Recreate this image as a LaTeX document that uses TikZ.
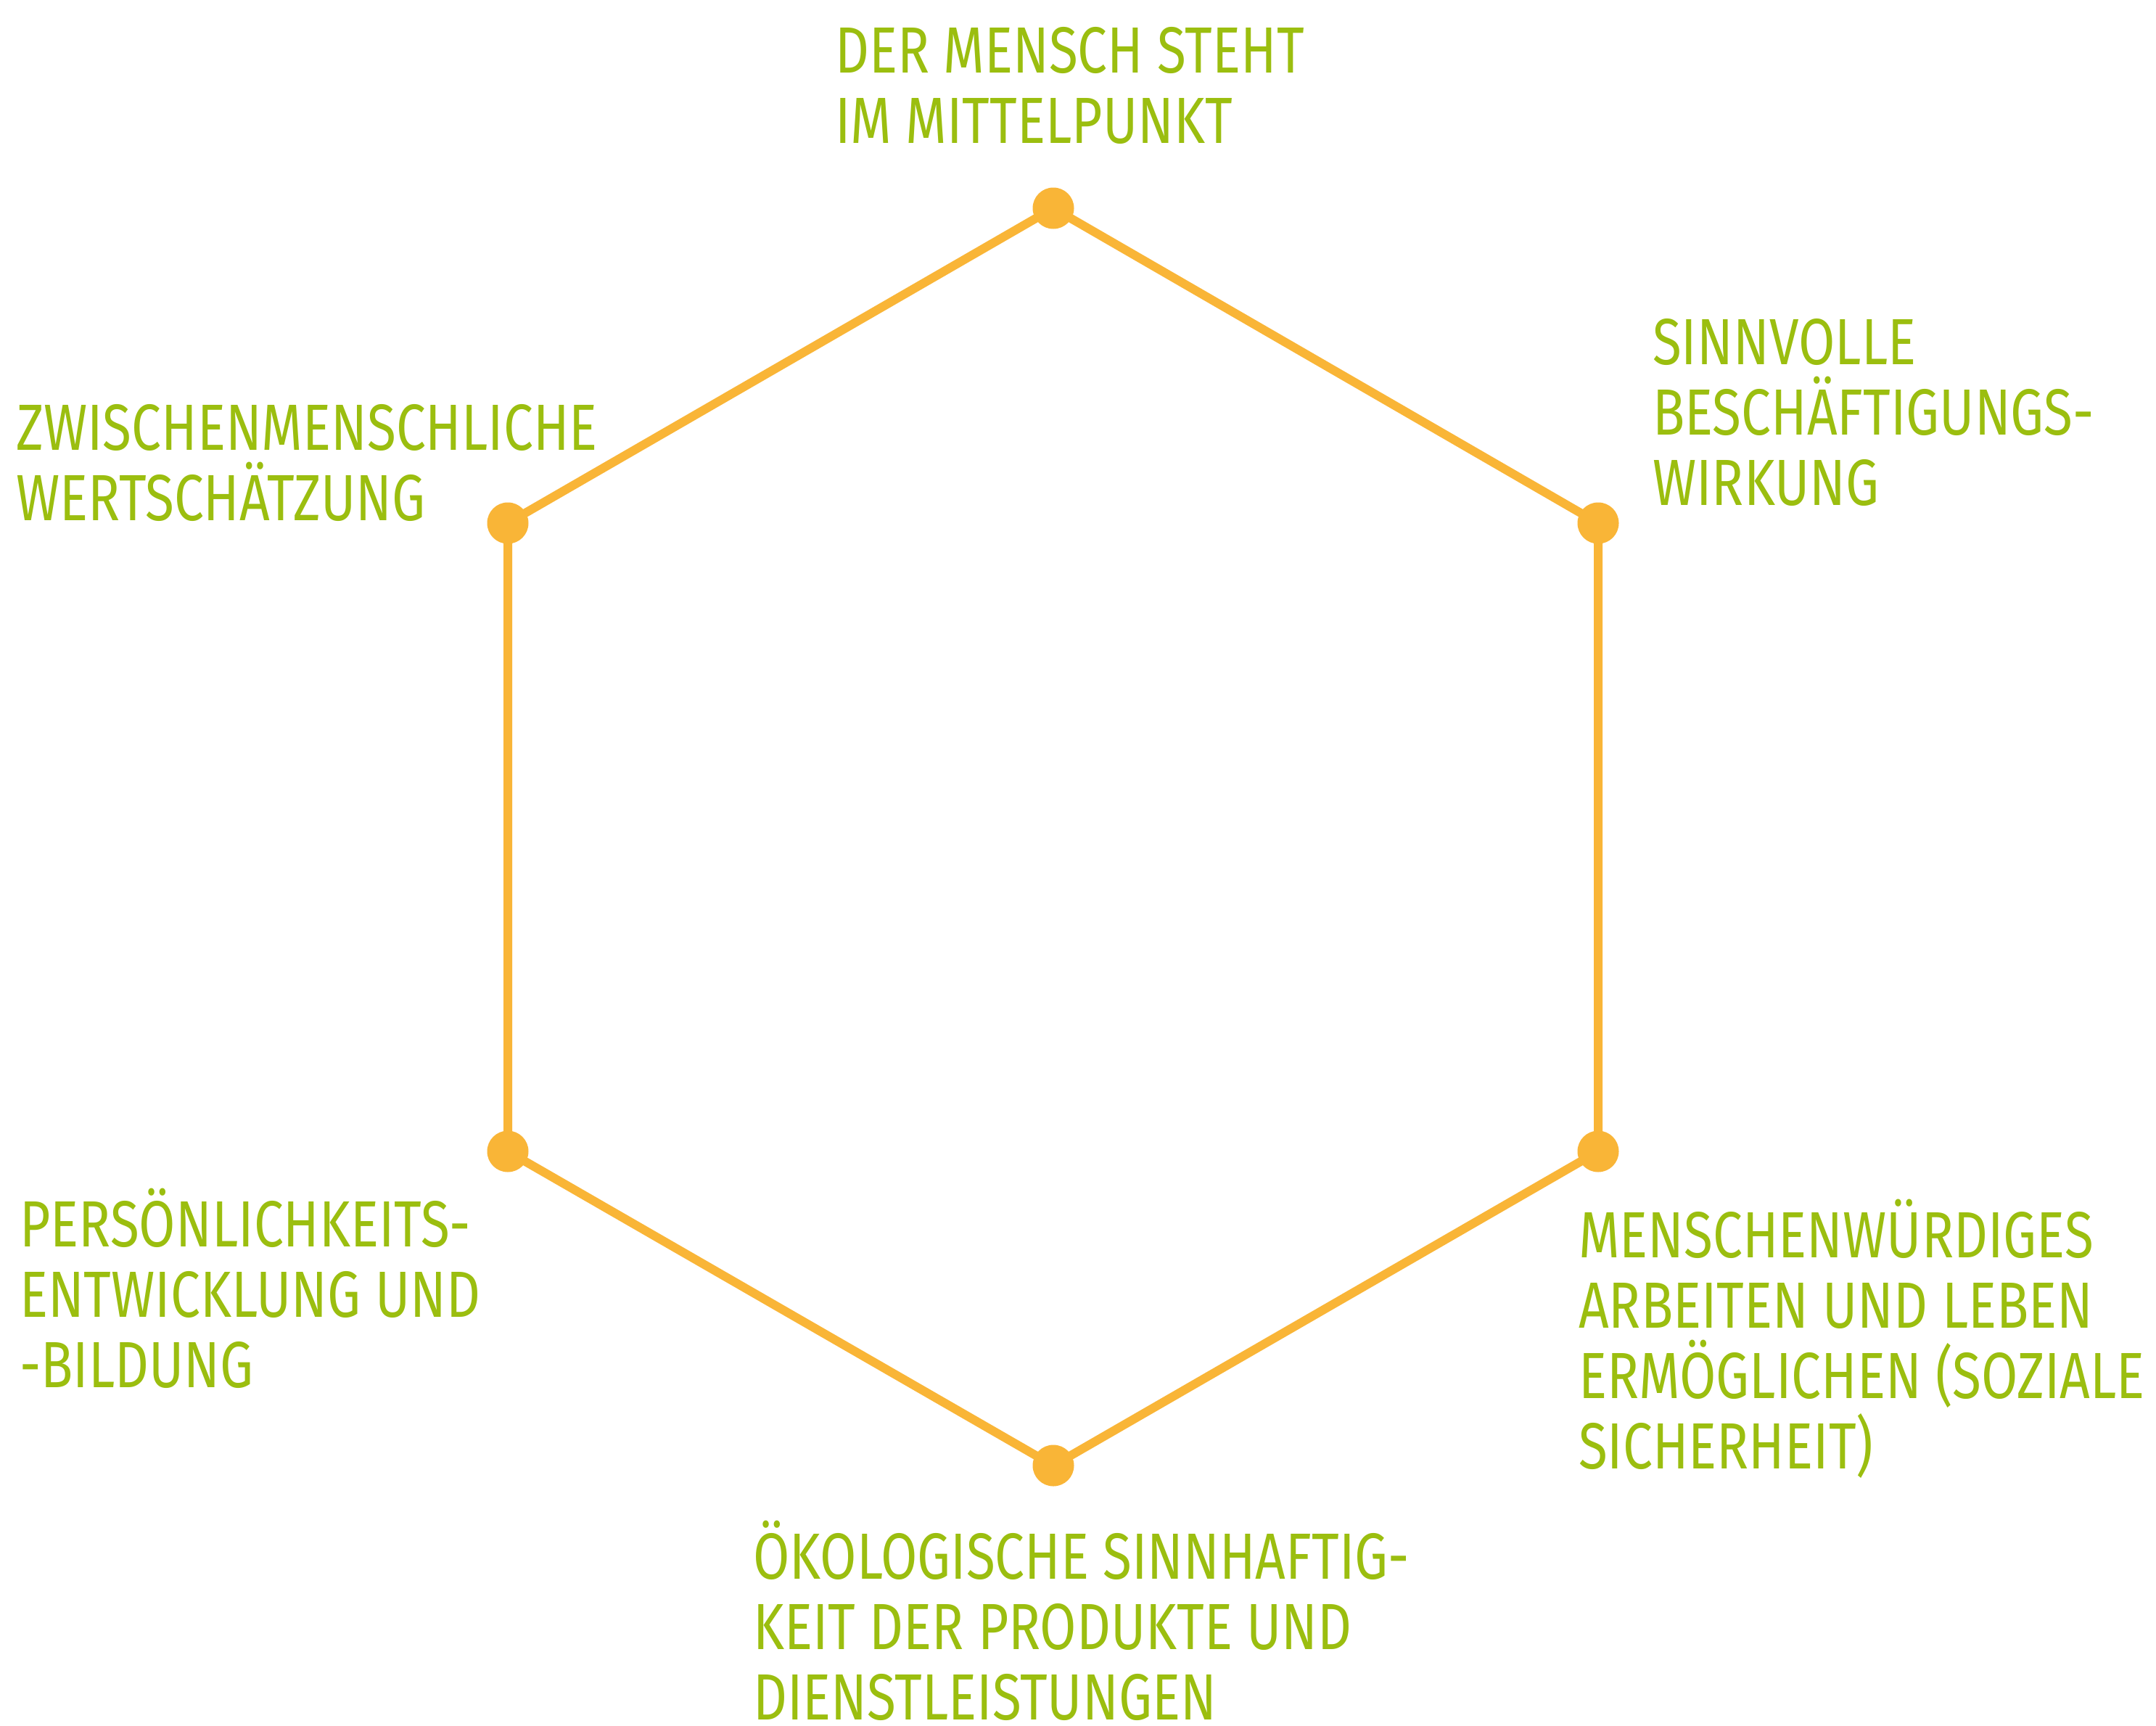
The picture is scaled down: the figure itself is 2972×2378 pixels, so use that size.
\documentclass[tikz,border=0pt]{standalone}
\usepackage{fontspec}
\usetikzlibrary{backgrounds}
\newfontfamily\labfont[FakeStretch=0.81]{Fira Sans}
\definecolor{labgreen}{RGB}{155,190,15}
\definecolor{hexorange}{RGB}{249,181,55}
\tikzset{
  lab/.style={anchor=base west, inner sep=0pt, text=labgreen,
    font=\labfont\fontsize{90}{97}\selectfont},
  dot/.style={circle, fill=hexorange, minimum size=57pt, inner sep=0pt},
  edge/.style={draw=hexorange, line width=12pt}
}
\newcommand{\lines}[1]{\vtop{\halign{##\hfil\cr#1\crcr}}}
\begin{document}
\begin{tikzpicture}[x=1pt,y=-1pt]
\useasboundingbox (0,0) rectangle (2972,2378);
\node[dot] (vt) at (1452,287) {};
\node[dot] (vur) at (2203,721) {};
\node[dot] (vlr) at (2203,1587) {};
\node[dot] (vb) at (1452,2020) {};
\node[dot] (vll) at (700,1587) {};
\node[dot] (vul) at (700,721) {};
\begin{scope}[on background layer]
\fill[white] (0,0) rectangle (2972,2378);
\draw[edge] (vt.center) -- (vur.center) -- (vlr.center) -- (vb.center) -- (vll.center) -- (vul.center) -- cycle;
\end{scope}
\node[lab] (ltop) at (1151,100) {\lines{DER MENSCH STEHT\cr IM MITTELPUNKT}};
\node[lab] (lur) at (2278,502) {\lines{SINNVOLLE\cr BESCHÄFTIGUNGS-\cr WIRKUNG}};
\node[lab] (llr) at (2176,1733) {\lines{MENSCHENWÜRDIGES\cr ARBEITEN UND LEBEN\cr ERMÖGLICHEN (SOZIALE\cr SICHERHEIT)}};
\node[lab] (lb) at (1038,2176) {\lines{ÖKOLOGISCHE SINNHAFTIG-\cr KEIT DER PRODUKTE UND\cr DIENSTLEISTUNGEN}};
\node[lab] (lll) at (27,1718) {\lines{PERSÖNLICHKEITS-\cr ENTWICKLUNG UND\cr -BILDUNG}};
\node[lab] (lul) at (22,620) {\lines{ZWISCHENMENSCHLICHE\cr WERTSCHÄTZUNG}};
\end{tikzpicture}
\end{document}
